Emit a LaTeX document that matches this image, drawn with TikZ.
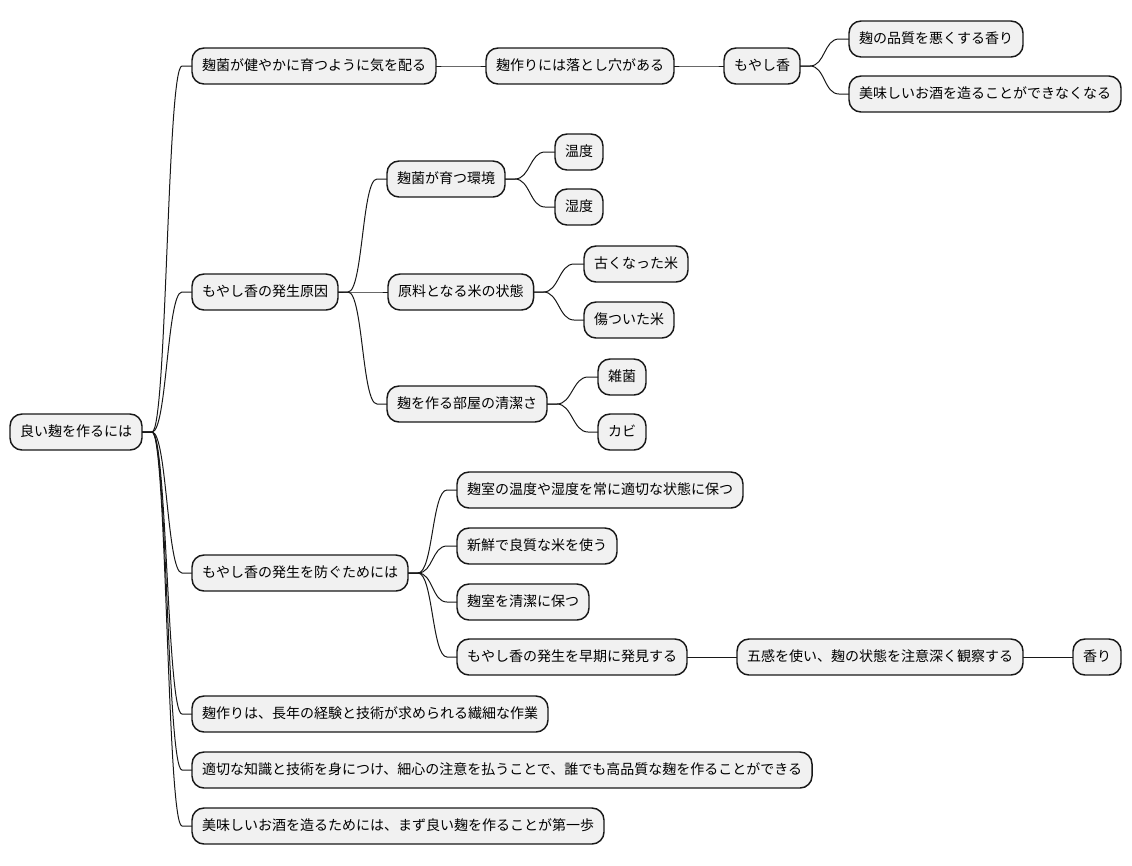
\documentclass[tikz,border=0pt]{standalone}
\usepackage{fontspec}
\setmainfont{Noto Sans CJK JP}
\usetikzlibrary{positioning,calc}

\definecolor{boxfill}{HTML}{F1F1F1}
\definecolor{boxline}{HTML}{181818}

\tikzset{
    box/.style={
        draw=boxline,
        fill=boxfill,
        line width=1.1pt,
        rounded corners=9pt,
        anchor=west,
        minimum height=27pt,
        inner xsep=7.5pt,
        inner ysep=0pt,
        outer sep=0pt,
        text height=8.2pt,
        text depth=1.8pt,
        font=\fontsize{10.5pt}{12pt}\selectfont
    },
    link/.style={draw=boxline, line width=0.75pt}
}

\begin{document}
\begin{tikzpicture}[x=0.75pt,y=-0.75pt]
\useasboundingbox (0,0) rectangle (1132,865);

% root and first branch
\node[box] (root) at (10,432) {良い麹を作るには};
\node[box] (care) at (192,66) {麹菌が健やかに育つように気を配る};
\node[box, right=37.5pt of care] (pitfall) {麹作りには落とし穴がある};
\node[box, right=37.5pt of pitfall] (moyashi) {もやし香};
\node[box] (badsmell) at (849,39) {麹の品質を悪くする香り};
\node[box] (nosake) at (849,94) {美味しいお酒を造ることができなくなる};

% causes
\node[box] (cause) at (192,292) {もやし香の発生原因};
\node[box] (env) at (387,179) {麹菌が育つ環境};
\node[box] (temp) at (555,152) {温度};
\node[box] (humid) at (555,207) {湿度};
\node[box, right=37.5pt of cause] (rice) {原料となる米の状態};
\node[box] (oldrice) at (584,264) {古くなった米};
\node[box] (hurtrice) at (584,320) {傷ついた米};
\node[box] (room) at (387,404) {麹を作る部屋の清潔さ};
\node[box] (germ) at (598,377) {雑菌};
\node[box] (mold) at (598,432) {カビ};

% prevention
\node[box] (prevent) at (192,573) {もやし香の発生を防ぐためには};
\node[box] (keep) at (457,490) {麹室の温度や湿度を常に適切な状態に保つ};
\node[box] (fresh) at (457,546) {新鮮で良質な米を使う};
\node[box] (clean) at (457,602) {麹室を清潔に保つ};
\node[box] (early) at (457,657) {もやし香の発生を早期に発見する};
\node[box, right=37.5pt of early] (senses) {五感を使い、麹の状態を注意深く観察する};
\node[box, right=37.5pt of senses] (smell) {香り};

% closing notes
\node[box] (craft) at (192,714) {麹作りは、長年の経験と技術が求められる繊細な作業};
\node[box] (skill) at (192,770) {適切な知識と技術を身につけ、細心の注意を払うことで、誰でも高品質な麹を作ることができる};
\node[box] (first) at (192,826) {美味しいお酒を造るためには、まず良い麹を作ることが第一歩};

\foreach \a/\b in {root/care, root/cause, root/prevent, root/craft, root/skill, root/first,
    care/pitfall, pitfall/moyashi, moyashi/badsmell, moyashi/nosake,
    cause/env, cause/rice, cause/room, env/temp, env/humid,
    rice/oldrice, rice/hurtrice, room/germ, room/mold,
    prevent/keep, prevent/fresh, prevent/clean, prevent/early,
    early/senses, senses/smell}
    \draw[link] (\a.east) -- ++(10,0)
        .. controls +(15,0) and ($(\b.west)+(-25,0)$) .. ($(\b.west)+(-10,0)$)
        -- (\b.west);
\end{tikzpicture}
\end{document}
